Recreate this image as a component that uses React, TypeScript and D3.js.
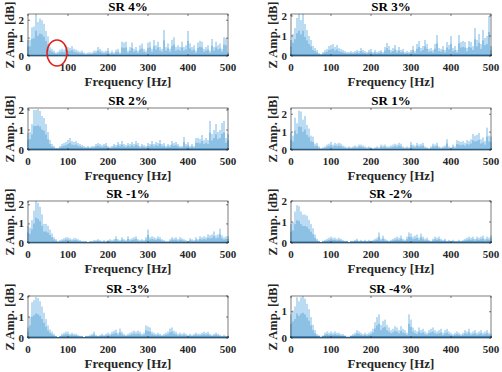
import * as d3 from 'd3'

const W = 502
const H = 372
const FONT = "'Liberation Serif', 'Times New Roman', 'DejaVu Serif', serif"

const TITLES = ['SR 4%', 'SR 3%', 'SR 2%', 'SR 1%', 'SR -1%', 'SR -2%', 'SR -3%', 'SR -4%']
const Y_MAX = [2.35, 2.1, 2.1, 2.35, 2.2, 2.0, 2.0, 1.6]
const X_TICKS = [0, 100, 200, 300, 400, 500]
const STEP_HZ = 5

// amplitude every 5 Hz, 0..500 Hz
const sr4 = [0.9, 0.9, 1.6, 1.65, 2.35, 1.9, 2.1, 2.0, 1.8, 1.4, 1.1, 0.5, 0.4, 0.3, 0.2, 0.25, 0.35, 0.4, 0.35, 0.6,
  0.5, 0.45, 0.55, 0.4, 0.35, 0.3, 0.25, 0.3, 0.2, 0.15, 0.2, 0.2, 0.2, 0.3, 0.3, 0.5, 0.4, 0.3, 0.25, 0.3,
  0.45, 0.2, 0.3, 0.2, 0.35, 0.4, 0.2, 0.8, 0.75, 0.8, 0.3, 0.5, 0.75, 0.4, 0.5, 0.3, 0.6, 0.7, 0.4, 0.3,
  0.75, 0.8, 0.4, 0.9, 0.6, 0.8, 0.5, 0.4, 1.45, 0.5, 0.7, 0.4, 0.9, 1.05, 0.5, 0.6, 0.5, 0.8, 0.5, 0.6,
  1.4, 0.7, 0.5, 0.6, 0.3, 0.75, 0.85, 0.8, 0.4, 0.5, 0.6, 0.3, 0.95, 0.5, 0.8, 0.6, 0.7, 0.4, 1.05, 1.0, 0.2]
const sr3 = [0.8, 1.1, 1.4, 1.9, 2.1, 1.8, 2.1, 1.6, 1.3, 1.0, 0.8, 0.5, 0.4, 0.3, 0.15, 0.1, 0.2, 0.3, 0.35, 0.5,
  0.55, 0.6, 0.45, 0.55, 0.4, 0.35, 0.3, 0.25, 0.2, 0.2, 0.25, 0.2, 0.25, 0.3, 0.25, 0.4, 0.3, 0.25, 0.2, 0.3,
  0.35, 0.2, 0.3, 0.2, 0.25, 0.3, 0.2, 0.45, 0.65, 0.5, 0.3, 0.4, 0.55, 0.3, 0.45, 0.3, 0.35, 0.2, 0.25, 0.2,
  0.3, 0.5, 0.25, 0.6, 0.75, 0.4, 0.5, 0.8, 0.6, 0.35, 0.4, 0.3, 0.6, 1.05, 0.4, 0.35, 0.5, 0.3, 0.7, 0.55,
  1.0, 0.4, 0.5, 0.3, 1.05, 0.7, 0.75, 0.7, 0.4, 0.75, 0.7, 0.5, 1.4, 0.8, 1.1, 0.6, 1.3, 0.9, 1.0, 2.0, 0.5]
const sr2 = [0.85, 0.9, 1.3, 2.0, 2.0, 2.05, 1.95, 1.7, 1.6, 1.3, 0.9, 0.5, 0.3, 0.2, 0.1, 0.1, 0.2, 0.3, 0.35, 0.4,
  0.5, 0.6, 0.45, 0.4, 0.45, 0.35, 0.3, 0.25, 0.2, 0.15, 0.2, 0.15, 0.2, 0.2, 0.3, 0.35, 0.3, 0.25, 0.3, 0.35,
  0.2, 0.15, 0.2, 0.3, 0.25, 0.4, 0.3, 0.45, 0.3, 0.25, 0.35, 0.3, 0.4, 0.3, 0.45, 0.35, 0.2, 0.3, 0.25, 0.2,
  0.35, 0.3, 0.45, 0.3, 0.4, 0.35, 0.5, 0.3, 0.35, 0.2, 0.3, 0.25, 0.45, 0.35, 0.4, 0.3, 0.2, 0.2, 0.65, 0.3,
  0.4, 0.2, 0.3, 0.2, 0.6, 0.6, 0.55, 0.75, 0.5, 0.6, 0.5, 1.45, 0.8, 1.0, 1.3, 0.9, 1.0, 1.35, 1.45, 0.6, 0.8]
const sr1 = [0.95, 0.8, 1.8, 1.5, 2.2, 2.15, 1.7, 1.9, 1.4, 1.2, 0.8, 0.75, 0.35, 0.4, 0.2, 0.1, 0.15, 0.2, 0.3, 0.35,
  0.45, 0.3, 0.4, 0.35, 0.4, 0.35, 0.25, 0.2, 0.15, 0.2, 0.15, 0.2, 0.25, 0.2, 0.3, 0.3, 0.25, 0.2, 0.15, 0.2,
  0.15, 0.1, 0.15, 0.2, 0.15, 0.3, 0.25, 0.3, 0.2, 0.2, 0.25, 0.3, 0.35, 0.3, 0.4, 0.35, 0.2, 0.15, 0.2, 0.15,
  0.45, 0.3, 0.25, 0.4, 0.3, 0.35, 0.4, 0.2, 0.15, 0.1, 0.2, 0.35, 0.3, 0.4, 0.2, 0.15, 0.2, 0.25, 0.6, 0.2,
  0.15, 0.3, 0.2, 0.55, 0.5, 0.45, 0.5, 0.4, 0.55, 0.5, 0.6, 0.9, 0.8, 0.85, 0.95, 0.6, 0.7, 0.5, 1.25, 0.8, 0.75]
const srm1 = [0.9, 0.8, 1.2, 1.7, 2.2, 2.1, 1.9, 1.5, 1.0, 1.0, 0.9, 0.7, 0.5, 0.3, 0.2, 0.1, 0.15, 0.2, 0.25, 0.3,
  0.3, 0.25, 0.2, 0.25, 0.25, 0.2, 0.15, 0.1, 0.1, 0.1, 0.05, 0.1, 0.1, 0.15, 0.15, 0.2, 0.15, 0.1, 0.15, 0.1,
  0.15, 0.2, 0.15, 0.2, 0.35, 0.2, 0.15, 0.3, 0.2, 0.15, 0.35, 0.2, 0.25, 0.3, 0.35, 0.2, 0.15, 0.2, 0.15, 0.3,
  0.7, 0.3, 0.35, 0.3, 0.25, 0.35, 0.3, 0.2, 0.15, 0.1, 0.1, 0.2, 0.3, 0.25, 0.3, 0.2, 0.3, 0.25, 0.2, 0.15,
  0.1, 0.25, 0.2, 0.15, 0.3, 0.2, 0.35, 0.3, 0.35, 0.3, 0.45, 0.4, 0.45, 0.6, 0.4, 0.45, 0.75, 0.4, 0.3, 0.35, 0.35]
const srm2 = [0.9, 1.0, 1.5, 1.8, 1.75, 1.5, 1.35, 1.35, 1.3, 1.1, 0.9, 0.7, 0.4, 0.2, 0.1, 0.05, 0.1, 0.15, 0.2, 0.25,
  0.3, 0.25, 0.25, 0.2, 0.25, 0.2, 0.15, 0.1, 0.1, 0.05, 0.1, 0.1, 0.15, 0.2, 0.1, 0.15, 0.1, 0.15, 0.1, 0.15,
  0.1, 0.15, 0.2, 0.25, 0.5, 0.2, 0.35, 0.2, 0.15, 0.1, 0.15, 0.2, 0.25, 0.3, 0.25, 0.35, 0.2, 0.15, 0.3, 0.5,
  0.45, 0.3, 0.35, 0.4, 0.25, 0.45, 0.3, 0.2, 0.25, 0.15, 0.1, 0.2, 0.3, 0.25, 0.3, 0.2, 0.15, 0.2, 0.1, 0.15,
  0.1, 0.15, 0.1, 0.1, 0.15, 0.1, 0.15, 0.2, 0.25, 0.3, 0.25, 0.3, 0.2, 0.3, 0.25, 0.3, 0.35, 0.2, 0.3, 0.25, 0.35]
const srm3 = [0.5, 1.0, 1.7, 1.8, 1.95, 1.9, 1.75, 1.5, 1.2, 0.9, 0.6, 0.4, 0.3, 0.2, 0.1, 0.05, 0.1, 0.2, 0.25, 0.3,
  0.3, 0.2, 0.25, 0.2, 0.2, 0.15, 0.1, 0.1, 0.05, 0.1, 0.1, 0.15, 0.2, 0.3, 0.15, 0.1, 0.15, 0.2, 0.15, 0.2,
  0.25, 0.2, 0.3, 0.35, 0.4, 0.25, 0.45, 0.3, 0.2, 0.15, 0.2, 0.25, 0.3, 0.35, 0.3, 0.35, 0.3, 0.2, 0.25, 0.6,
  0.55, 0.5, 0.3, 0.25, 0.2, 0.25, 0.2, 0.15, 0.2, 0.25, 0.3, 0.45, 0.5, 0.35, 0.3, 0.2, 0.25, 0.2, 0.25, 0.2,
  0.15, 0.2, 0.15, 0.2, 0.25, 0.2, 0.2, 0.25, 0.3, 0.25, 0.3, 0.2, 0.15, 0.2, 0.25, 0.2, 0.15, 0.1, 0.15, 0.1, 0.1]
const srm4 = [0.9, 1.05, 1.2, 1.55, 1.4, 1.55, 1.6, 1.5, 1.3, 1.1, 0.8, 0.5, 0.3, 0.15, 0.1, 0.05, 0.1, 0.2, 0.25, 0.2,
  0.25, 0.2, 0.25, 0.2, 0.2, 0.15, 0.15, 0.1, 0.05, 0.05, 0.1, 0.15, 0.2, 0.3, 0.25, 0.2, 0.15, 0.2, 0.15, 0.2,
  0.25, 0.35, 0.6, 0.8, 0.9, 0.5, 0.65, 0.7, 0.5, 0.4, 0.3, 0.35, 0.45, 0.4, 0.3, 0.45, 0.35, 0.3, 0.2, 0.9,
  0.7, 0.4, 0.3, 0.25, 0.4, 0.3, 0.35, 0.25, 0.2, 0.3, 0.35, 0.4, 0.3, 0.25, 0.3, 0.35, 0.2, 0.3, 0.35, 0.25,
  0.2, 0.15, 0.2, 0.25, 0.2, 0.15, 0.2, 0.3, 0.25, 0.35, 0.2, 0.25, 0.3, 0.2, 0.25, 0.3, 0.2, 0.25, 0.3, 0.2, 0.15]

const SERIES = [sr4, sr3, sr2, sr1, srm1, srm2, srm3, srm4]

const COL_X = [28, 291]
const ROW_Y = [14, 108, 201, 296]
const PLOT_W = 200
const PLOT_H = 42

const Panel = ({ idx }: { idx: number }) => {
  const left = COL_X[idx % 2]
  const top = ROW_Y[Math.floor(idx / 2)]
  const data = SERIES[idx]
  const x = d3.scaleLinear().domain([0, 500]).range([0, PLOT_W])
  const y = d3.scaleLinear().domain([0, Y_MAX[idx]]).range([PLOT_H, 0])
  const yTicks = d3.range(0, Math.floor(Y_MAX[idx]) + 1)
  const axisCol = '#262626'

  return (
    <g transform={`translate(${left},${top})`} style={{ fontFamily: FONT }}>
      {data.map((v, i) => {
        const cx = x(i * STEP_HZ)
        return (
          <g key={i}>
            <line x1={cx} x2={cx} y1={PLOT_H} y2={y(v)} stroke="#4FA3DD" strokeWidth={0.9} opacity={0.85} />
            <line x1={cx} x2={cx} y1={PLOT_H} y2={y(v * 0.6)} stroke="#0072BD" strokeWidth={0.5} />
            <line x1={cx} x2={cx} y1={PLOT_H} y2={y(Math.min(v, 0.07))} stroke="#0A4F8A" strokeWidth={1.4} />
          </g>
        )
      })}
      <rect width={PLOT_W} height={PLOT_H} fill="none" stroke={axisCol} strokeWidth={0.6} />
      {X_TICKS.map((t) => (
        <g key={t}>
          <line x1={x(t)} x2={x(t)} y1={PLOT_H} y2={PLOT_H - 2} stroke={axisCol} strokeWidth={0.6} />
          <line x1={x(t)} x2={x(t)} y1={0} y2={2} stroke={axisCol} strokeWidth={0.6} />
          <text x={x(t)} y={PLOT_H + 15} textAnchor="middle" fontSize={11} fontWeight="bold" fill={axisCol}>
            {t}
          </text>
        </g>
      ))}
      {yTicks.map((t) => (
        <g key={t}>
          <line x1={0} x2={2} y1={y(t)} y2={y(t)} stroke={axisCol} strokeWidth={0.6} />
          <line x1={PLOT_W} x2={PLOT_W - 2} y1={y(t)} y2={y(t)} stroke={axisCol} strokeWidth={0.6} />
          <text x={-4} y={y(t) + 3.5} textAnchor="end" fontSize={11} fontWeight="bold" fill={axisCol}>
            {t}
          </text>
        </g>
      ))}
      <text x={PLOT_W / 2} y={-3} textAnchor="middle" fontSize={13} fontWeight="bold" fill="#000">
        {TITLES[idx]}
      </text>
      <text x={PLOT_W / 2} y={PLOT_H + 30} textAnchor="middle" fontSize={13} fontWeight="bold" fill={axisCol}>
        Frequency [Hz]
      </text>
      <text
        transform={`translate(${-14},${PLOT_H / 2}) rotate(-90)`}
        textAnchor="middle"
        fontSize={12.5}
        fontWeight="bold"
        fill={axisCol}
      >
        Z Amp. [dB]
      </text>
    </g>
  )
}

export default function App() {
  return (
    <svg width={W} height={H} style={{ position: 'absolute', left: 0, top: 0, background: '#fff' }}>
      {TITLES.map((_, i) => (
        <Panel key={i} idx={i} />
      ))}
      <ellipse cx={57} cy={53} rx={10} ry={13} fill="none" stroke="#E0201B" strokeWidth={1.5} />
    </svg>
  )
}
